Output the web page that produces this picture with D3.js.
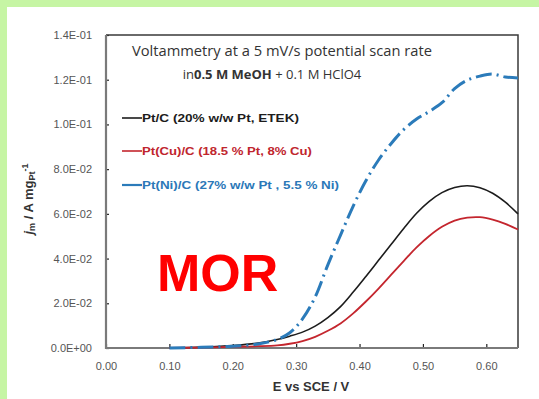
<!DOCTYPE html>
<html><head><meta charset="utf-8">
<script src="https://cdn.jsdelivr.net/npm/d3@7"></script>
<style>html,body{margin:0;padding:0;background:#fff}svg{display:block}</style>
</head><body>
<svg id="c" width="539" height="399"></svg>
<script>
// Data
const potentials = [0.10,0.15,0.20,0.24,0.27,0.29,0.31,0.33,0.35,0.37,0.39,0.41,0.43,0.45,0.47,0.49,0.51,0.53,0.55,0.57,0.59,0.61,0.63,0.65];
const ptC   = [0.0000,0.0004,0.0011,0.0022,0.0038,0.0053,0.0071,0.0098,0.0136,0.0185,0.0250,0.0320,0.0392,0.0464,0.0536,0.0603,0.0656,0.0695,0.0718,0.0726,0.0717,0.0692,0.0652,0.0600];
const ptCuC = [0.0000,0.0002,0.0005,0.0008,0.0012,0.0019,0.0031,0.0050,0.0077,0.0110,0.0155,0.0208,0.0266,0.0328,0.0390,0.0450,0.0501,0.0542,0.0570,0.0583,0.0585,0.0574,0.0555,0.0530];
const ptNiC = [0.0000,0.0003,0.0008,0.0018,0.0038,0.0068,0.0130,0.0228,0.0372,0.0505,0.0635,0.0748,0.0841,0.0915,0.0978,0.1024,0.1058,0.1097,0.1160,0.1198,0.1216,0.1225,0.1212,0.1208];
const seriesNames = ["Pt/C (20% w/w Pt, ETEK)","Pt(Cu)/C (18.5 % Pt, 8% Cu)","Pt(Ni)/C (27% w/w Pt , 5.5 % Ni)"];
const xTicks = [0.00,0.10,0.20,0.30,0.40,0.50,0.60];
const yTicks = [0,0.02,0.04,0.06,0.08,0.10,0.12,0.14];

const svg = d3.select("#c");
// background: green frame top/left
svg.append("rect").attr("x",0).attr("y",0).attr("width",539).attr("height",399).attr("fill","#c6f5a4");
svg.append("rect").attr("x",7).attr("y",7).attr("width",532).attr("height",392).attr("fill","#ffffff");

const L=106,R=518,T=35,B=348;
const x = d3.scaleLinear().domain([0,0.65]).range([L,R]);
const y = d3.scaleLinear().domain([0,0.14]).range([B,T]);

const fmtY = v => {
  if (v===0) return "0.0E+00";
  const e = Math.floor(Math.log10(v)+1e-9);
  const m = v/Math.pow(10,e);
  const s = e<0?"-":"+";
  return m.toFixed(1)+"E"+s+String(Math.abs(e)).padStart(2,"0");
};

const font = "'Liberation Sans', Arial, sans-serif";

// axes
const gx = svg.append("g").attr("transform",`translate(0,${B})`)
  .call(d3.axisBottom(x).tickValues(xTicks).tickFormat(d3.format(".2f")).tickSizeInner(-4).tickSizeOuter(0).tickPadding(14));
const gy = svg.append("g").attr("transform",`translate(${L},0)`)
  .call(d3.axisLeft(y).tickValues(yTicks).tickFormat(fmtY).tickSizeInner(-3).tickSizeOuter(0).tickPadding(14));
[gx,gy].forEach(g=>{
  g.select(".domain").remove();
  g.selectAll(".tick line").attr("stroke","#222").attr("stroke-width",1.2);
  g.selectAll(".tick text").attr("fill","#555").style("font-family",font).style("font-size","11px");
});

// frame
svg.append("path").attr("d",`M${L},${T}H${R}V${B}`).attr("fill","none").attr("stroke","#3a3a3a").attr("stroke-width",1.5);
svg.append("path").attr("d",`M${L},${T}V${B}H${R}`).attr("fill","none").attr("stroke","#7a7a7a").attr("stroke-width",2.2);

// curves
const series = [
  {vals: ptC,   color:"#1c1c1c", w:1.6, dash:null},
  {vals: ptCuC, color:"#c4262e", w:1.8, dash:null},
  {vals: ptNiC, color:"#2b7bba", w:3,   dash:"16,5,2,5"}
];
const line = d3.line().x(d=>x(d[0])).y(d=>y(d[1])).curve(d3.curveCatmullRom.alpha(0.5));
series.forEach(s=>{
  svg.append("path").datum(potentials.map((e,i)=>[e,s.vals[i]]))
    .attr("d",line).attr("fill","none").attr("stroke",s.color).attr("stroke-width",s.w)
    .attr("stroke-dasharray",s.dash);
});

// title
const tfont = "'Open Sans', Lato, sans-serif";
svg.append("text").attr("x",282).attr("y",56).attr("text-anchor","middle")
  .style("font-family",tfont).style("font-size","14px").attr("fill","#333")
  .attr("textLength",300).attr("lengthAdjust","spacingAndGlyphs")
  .text("Voltammetry at a 5 mV/s potential scan rate");
const t2 = svg.append("text").attr("x",272).attr("y",79).attr("text-anchor","middle")
  .style("font-family",tfont).style("font-size","13px").attr("fill","#333");
t2.append("tspan").text("in");
t2.append("tspan").attr("font-weight","bold").text("0.5 M MeOH");
t2.append("tspan").text(" + 0.1 M HClO4");

// legend
const legY = [118,151,185];
const legW = [157,170,197];
const legColors = ["#1c1c1c","#c4262e","#2b7bba"];
const legText = ["#1c1c1c","#c0262e","#2b78b8"];
seriesNames.forEach((n,i)=>{
  svg.append("line").attr("x1",122).attr("x2",142).attr("y1",legY[i]).attr("y2",legY[i])
    .attr("stroke",legColors[i]).attr("stroke-width",i===2?2.2:1.6);
  svg.append("text").attr("x",142).attr("y",legY[i]+3.5)
    .style("font-family",font).style("font-size","10.5px").attr("font-weight","bold")
    .attr("textLength",legW[i]).attr("lengthAdjust","spacingAndGlyphs")
    .attr("fill",legText[i]).text(n);
});

// MOR label
svg.append("text").attr("x",157).attr("y",291)
  .style("font-family","'Liberation Sans', Arial, sans-serif").style("font-size","52px").attr("font-weight","bold")
  .attr("fill","#ff0000").text("MOR");

// axis titles
svg.append("text").attr("x",311).attr("y",391).attr("text-anchor","middle")
  .style("font-family",font).style("font-size","13px").attr("font-weight","bold").attr("fill","#333")
  .text("E vs SCE / V");
const yt = svg.append("text").attr("transform","translate(33,199) rotate(-90)").attr("text-anchor","middle")
  .style("font-family",font).style("font-size","13px").attr("font-weight","bold").attr("fill","#333");
yt.append("tspan").attr("font-style","italic").text("j");
yt.append("tspan").attr("font-size","9px").attr("dy",2).text("m");
yt.append("tspan").attr("dy",-2).text(" / A mg");
yt.append("tspan").attr("font-size","9px").attr("dy",2).text("Pt");
yt.append("tspan").attr("font-size","9px").attr("dy",-7).text("-1");
</script>
</body></html>
